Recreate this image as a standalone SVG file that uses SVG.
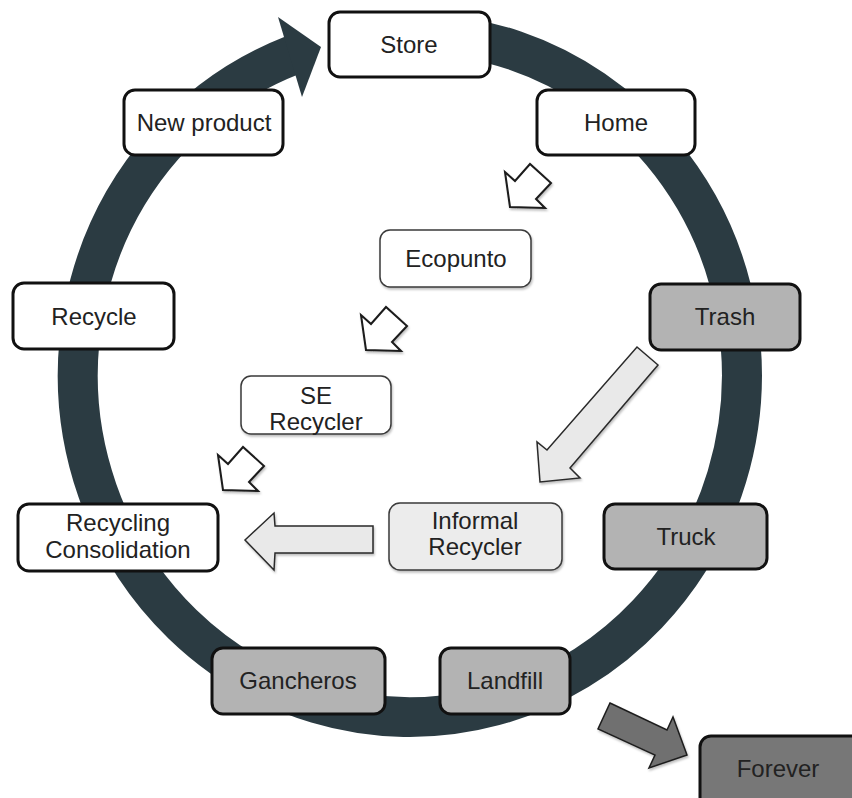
<svg xmlns="http://www.w3.org/2000/svg" width="852" height="798" viewBox="0 0 852 798">
  <defs>
    <style>
      .box { stroke: #111; stroke-width: 3; }
      .thin { stroke: #3a3a3a; stroke-width: 1.5; }
      .white { fill: #ffffff; }
      .grey { fill: #b3b3b3; }
      .pale { fill: #ececec; }
      .dark { fill: #777777; }
      text { font-family: "Liberation Sans", Arial, Helvetica, sans-serif; font-size: 24px; fill: #222; text-anchor: middle; }
      .hollow { fill: #ffffff; stroke: #1a1a1a; stroke-width: 2; stroke-linejoin: miter; }
      .block { fill: #e9e9e9; stroke: #2a2a2a; stroke-width: 1.5; }
      .sink { fill: #6f6f6f; stroke: #1e1e1e; stroke-width: 1.5; }
    </style>
    <filter id="shadow" x="-20%" y="-20%" width="140%" height="140%">
      <feDropShadow dx="1" dy="2" stdDeviation="1.2" flood-color="#000" flood-opacity="0.25"/>
    </filter>
    <!-- small outlined arrow pointing down-left, tip at origin -->
    <polygon id="smallArrow" class="hollow" points="0,0 -5,-35 5,-26 20,-43 41,-24 26,-8 35,1"/>
  </defs>

  <rect width="852" height="798" fill="#ffffff"/>

  <g id="connectors">
    <!-- cycle ring running clockwise from Store back into Store -->
    <path d="M 360 36.9 A 332 342 0 1 1 292 55.3" fill="none" stroke="#2b3b42" stroke-width="40"/>
    <polygon points="278,17 321,47 302,97" fill="#2b3b42"/>

    <!-- Home to Ecopunto to SE Recycler to Recycling Consolidation -->
    <use href="#smallArrow" x="510" y="207" filter="url(#shadow)"/>
    <use href="#smallArrow" x="366" y="350" filter="url(#shadow)"/>
    <use href="#smallArrow" x="223" y="490" filter="url(#shadow)"/>

    <!-- Trash to Informal Recycler -->
    <polygon class="block" filter="url(#shadow)" points="637,347 658,365 570,468 580,478 540,482 537,442 547,450"/>
    <!-- Informal Recycler to Recycling Consolidation -->
    <polygon class="block" filter="url(#shadow)" points="373,526 275,526 274,513 245,540 274,570 275,553 373,553"/>
    <!-- Landfill to Forever -->
    <polygon class="sink" filter="url(#shadow)" points="610,703 667,730 673,717 687,755 649,768 655,755 598,729"/>
  </g>

  <g id="store">
    <rect class="box white" x="329" y="12" width="161" height="65" rx="11"/>
    <text x="409" y="53">Store</text>
  </g>
  <g id="home">
    <rect class="box white" x="537" y="90" width="158" height="65" rx="11"/>
    <text x="616" y="131">Home</text>
  </g>
  <g id="new-product">
    <rect class="box white" x="124" y="90" width="159" height="65" rx="11"/>
    <text x="204" y="131">New product</text>
  </g>
  <g id="ecopunto">
    <rect class="thin white" x="380" y="230" width="151" height="57" rx="10" filter="url(#shadow)"/>
    <text x="456" y="267">Ecopunto</text>
  </g>
  <g id="recycle">
    <rect class="box white" x="13" y="283" width="161" height="66" rx="11"/>
    <text x="94" y="325">Recycle</text>
  </g>
  <g id="trash">
    <rect class="box grey" x="650" y="284" width="150" height="66" rx="11"/>
    <text x="725" y="325">Trash</text>
  </g>
  <g id="se-recycler">
    <rect class="thin white" x="241" y="376" width="150" height="58" rx="10" filter="url(#shadow)"/>
    <text x="316" y="404">SE</text>
    <text x="316" y="430">Recycler</text>
  </g>
  <g id="recycling-consolidation">
    <rect class="box white" x="18" y="504" width="200" height="67" rx="11"/>
    <text x="118" y="531">Recycling</text>
    <text x="118" y="558">Consolidation</text>
  </g>
  <g id="informal-recycler">
    <rect class="thin pale" x="389" y="503" width="173" height="67" rx="11" filter="url(#shadow)"/>
    <text x="475" y="529">Informal</text>
    <text x="475" y="555">Recycler</text>
  </g>
  <g id="truck">
    <rect class="box grey" x="604" y="504" width="163" height="65" rx="11"/>
    <text x="686" y="545">Truck</text>
  </g>
  <g id="gancheros">
    <rect class="box grey" x="212" y="648" width="173" height="66" rx="11"/>
    <text x="298" y="689">Gancheros</text>
  </g>
  <g id="landfill">
    <rect class="box grey" x="440" y="648" width="130" height="66" rx="11"/>
    <text x="505" y="689">Landfill</text>
  </g>
  <g id="forever">
    <rect class="box dark" x="700" y="736" width="170" height="80" rx="11"/>
    <text x="778" y="777">Forever</text>
  </g>
</svg>
